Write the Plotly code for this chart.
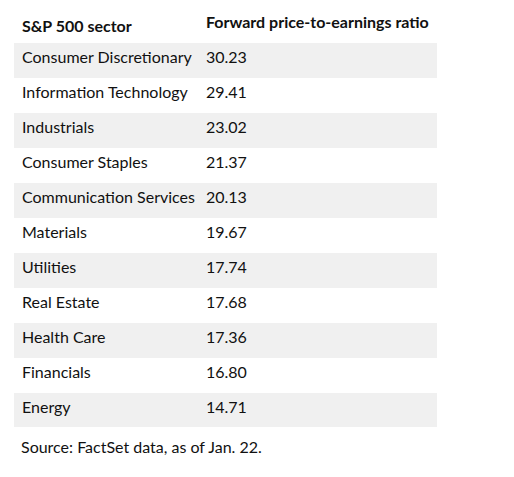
import plotly.graph_objects as go

W, H = 514, 477
OFF = 8  # page body margin offset

header_labels = ["S&P 500 sector", "Forward price-to-earnings ratio"]
sectors = ["Consumer Discretionary", "Information Technology", "Industrials",
           "Consumer Staples", "Communication Services", "Materials", "Utilities",
           "Real Estate", "Health Care", "Financials", "Energy"]
pe_ratios = [30.23, 29.41, 23.02, 21.37, 20.13, 19.67, 17.74, 17.68, 17.36, 16.80, 14.71]
source_note = "Source: FactSet data, as of Jan. 22."

NB = "\u00a0"
def nowrap(s):
    return s.replace(" ", NB)

row_fill = ["#f0f0f0" if i % 2 == 0 else "#ffffff" for i in range(len(sectors))]

left, right = 14 - OFF, 437 - OFF
top, bottom = 8 - OFF, 427 - OFF

fig = go.Figure(go.Table(
    domain=dict(x=[left / W, right / W], y=[1 - bottom / H, 1 - top / H]),
    columnwidth=[184, 239],
    header=dict(
        values=[nowrap(h) for h in header_labels],
        align="left",
        fill_color="#ffffff",
        line=dict(color="rgba(0,0,0,0)", width=0),
        font=dict(family="Lato", size=16, color="#111111", weight="bold"),
        height=34,
    ),
    cells=dict(
        values=[[nowrap(s) for s in sectors], [f"{v:.2f}" for v in pe_ratios]],
        align="left",
        fill_color=[row_fill, row_fill],
        line=dict(color="rgba(0,0,0,0)", width=0),
        font=dict(family="Lato", size=16, color="#111111"),
        height=35,
    ),
))

fig.add_annotation(
    text=source_note, xref="paper", yref="paper",
    x=(21 - OFF - 2) / W, y=1 - (446 - OFF) / H, xanchor="left", yanchor="middle",
    showarrow=False, font=dict(family="Lato", size=16, color="#111111"),
)

fig.update_layout(
    width=W, height=H,
    margin=dict(l=0, r=0, t=0, b=0),
    paper_bgcolor="#ffffff", plot_bgcolor="#ffffff",
)

fig.write_html("out.html")
